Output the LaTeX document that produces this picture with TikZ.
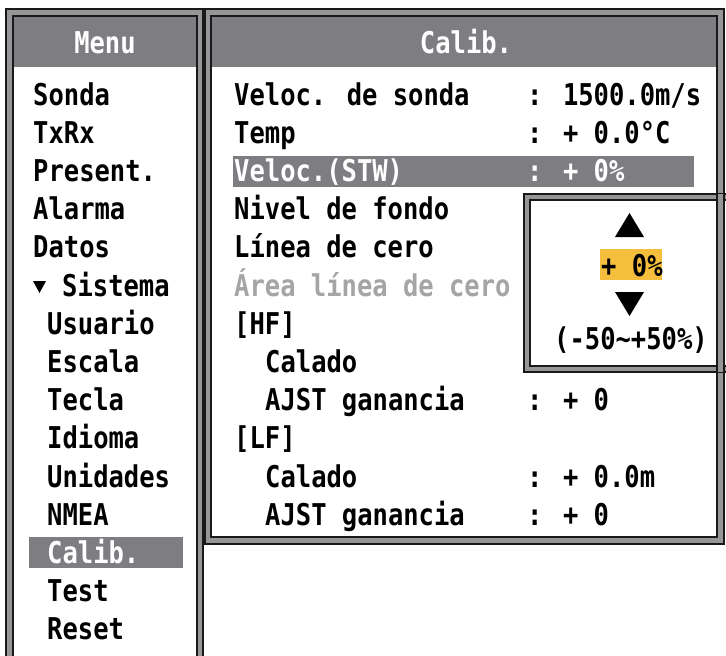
\documentclass[tikz,border=0pt]{standalone}
\usepackage{fontspec}
\newfontfamily\pix[FakeStretch=0.85]{DejaVu Sans Mono}
\definecolor{hdr}{RGB}{125,125,130}
\definecolor{band}{RGB}{150,150,152}
\definecolor{dark}{RGB}{25,25,25}
\definecolor{dim}{RGB}{165,165,165}
\definecolor{amber}{RGB}{245,190,60}
\tikzset{
  txt/.style={anchor=base west, inner sep=0pt, text=black,
    font=\pix\bfseries\fontsize{30}{30}\selectfont},
  ctxt/.style={txt, anchor=base},
  seltxt/.style={txt, text=white},
  dimtxt/.style={txt, text=dim},
  hdrtxt/.style={ctxt, text=white},
  outerline/.style={draw=dark, line width=1.6pt},
  innerline/.style={draw=dark, line width=2pt},
  selbar/.style={fill=hdr},
}
\begin{document}
\begin{tikzpicture}[x=1pt,y=-1pt]
\useasboundingbox (0,0) rectangle (726,656);
\clip (0,0) rectangle (726,656);
\fill[white] (0,0) rectangle (726,656);

% ---------- left panel ----------
\fill[band] (6,9) rectangle (203,680);
\fill[white] (13,16) rectangle (197,680);
\fill[hdr] (13,16) rectangle (197,67);
\draw[outerline] (6,680) -- (6,9) -- (203,9) -- (203,680);
\draw[innerline] (13,680) -- (13,16) -- (197,16) -- (197,680);
\node[hdrtxt] (menuh) at (105,53) {Menu};

\fill[selbar] (29,537) rectangle (183,568);
\node[txt] (m0) at (33,105.0) {Sonda};
\node[txt] (m1) at (33,143.2) {TxRx};
\node[txt] (m2) at (33,181.4) {Present.};
\node[txt] (m3) at (33,219.6) {Alarma};
\node[txt] (m4) at (33,257.8) {Datos};
\fill[black] (33,281) -- (46,281) -- (39.5,293) -- cycle;
\node[txt] (m5) at (62,296.0) {Sistema};
\node[txt] (m6) at (47,334.2) {Usuario};
\node[txt] (m7) at (47,372.4) {Escala};
\node[txt] (m8) at (47,410.6) {Tecla};
\node[txt] (m9) at (47,448.8) {Idioma};
\node[txt] (m10) at (47,487.0) {Unidades};
\node[txt] (m11) at (47,525.2) {NMEA};
\node[seltxt] (m12) at (47,563.4) {Calib.};
\node[txt] (m13) at (47,601.6) {Test};
\node[txt] (m14) at (47,639.8) {Reset};

% ---------- right panel ----------
\fill[band] (205,9) rectangle (724,544);
\fill[white] (211,16) rectangle (717,537);
\fill[hdr] (211,16) rectangle (717,67);
\draw[outerline] (205,9) rectangle (724,544);
\draw[innerline] (211,16) rectangle (717,537);
\node[hdrtxt] (calh) at (466,53) {Calib.};

\fill[selbar] (233,156) rectangle (694,187);
\node[txt] (r0) at (234,105.0) {Veloc. de sonda};
\node[txt] (v0) at (527,105.0) {: 1500.0m/s};
\node[txt] (r1) at (234,143.2) {Temp};
\node[txt] (v1) at (527,143.2) {: + 0.0°C};
\node[seltxt] (r2) at (234,181.4) {Veloc.(STW)};
\node[seltxt] (v2) at (527,181.4) {: + 0\%};
\node[txt] (r3) at (234,219.6) {Nivel de fondo};
\node[txt] (r4) at (234,257.8) {Línea de cero};
\node[dimtxt] (r5) at (234,296.0) {Área línea de cero};
\node[txt] (r6) at (234,334.2) {[HF]};
\node[txt] (r7) at (265,372.4) {Calado};
\node[txt] (r8) at (265,410.6) {AJST ganancia};
\node[txt] (v8) at (527,410.6) {: + 0};
\node[txt] (r9) at (234,448.8) {[LF]};
\node[txt] (r10) at (265,487.0) {Calado};
\node[txt] (v10) at (527,487.0) {: + 0.0m};
\node[txt] (r11) at (265,525.2) {AJST ganancia};
\node[txt] (v11) at (527,525.2) {: + 0};

% ---------- popup ----------
\fill[band] (524,194) rectangle (740,372);
\fill[white] (530,200) rectangle (740,366);
\draw[outerline] (740,194) -- (524,194) -- (524,372) -- (740,372);
\draw[innerline] (740,200) -- (530,200) -- (530,366) -- (740,366);
\fill[band] (717,194) rectangle (724,372);
\draw[dark, line width=1.2pt] (717,194) -- (717,372) (724,194) -- (724,372);

\fill[black] (615,237) -- (644,237) -- (629.5,213) -- cycle;
\fill[amber] (600,249) rectangle (662,280);
\node[txt] (pv) at (601,276) {+ 0\%};
\fill[black] (615,292) -- (644,292) -- (629.5,316) -- cycle;
\node[ctxt] (rng) at (631,349) {(-50\textasciitilde+50\%)};
\end{tikzpicture}
\end{document}
